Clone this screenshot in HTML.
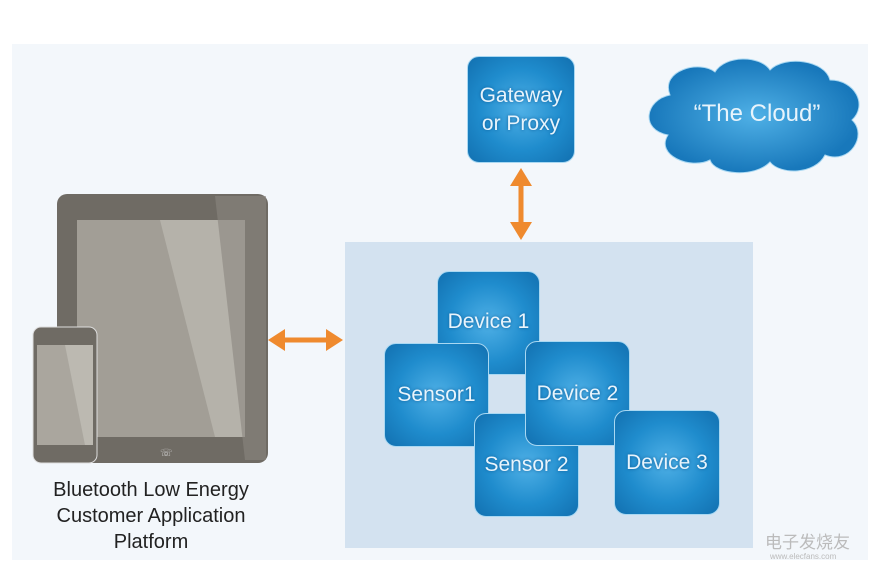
<!DOCTYPE html><html><head><style>
body{margin:0;width:877px;height:574px;background:#fff;position:relative;overflow:hidden;font-family:"Liberation Sans",sans-serif}
.a{position:absolute}
.b{position:absolute;border-radius:12px;background:radial-gradient(ellipse at 50% 50%,#4fb0e6 0%,#1f8ccd 55%,#1270b0 100%);border:1.5px solid #a9d8f2;color:#e8f4fc;font-size:21px;display:flex;align-items:center;justify-content:center;text-align:center;box-sizing:border-box;text-shadow:0 0 3px #0d5d99}
</style></head><body>
<div class="a" style="left:12px;top:44px;width:856px;height:516px;background:#f3f7fb"></div>
<div class="a" style="left:345px;top:242px;width:408px;height:306px;background:#d3e2f0"></div>
<div class="a" style="left:57px;top:194px;width:211px;height:269px;background:#6f6b64;border-radius:10px"></div>
<svg class="a" style="left:0;top:0" width="877" height="574">
<polygon points="77,220 245,220 245,437 77,437" fill="#a29e96"/>
<polygon points="160,220 245,220 245,437 215,437" fill="#b5b2aa"/>
<polygon points="215,196 266,196 266,460 245,460" fill="#8a867e" opacity=".6"/>
<rect x="33" y="327" width="64" height="136" rx="8" fill="#6f6b64" stroke="#ddd" stroke-width="1"/>
<rect x="37" y="345" width="56" height="100" fill="#aaa69e"/>
<polygon points="65,345 93,345 93,445 85,445" fill="#bcb9b1"/>
<text x="160" y="456" font-size="10" fill="#ccc">☏</text>
<g fill="#ef8a2e" stroke="#ef8a2e">
<line x1="280" y1="340" x2="331" y2="340" stroke-width="5"/>
<polygon points="268,340 285,329 285,351" stroke="none"/>
<polygon points="343,340 326,329 326,351" stroke="none"/>
<line x1="521" y1="180" x2="521" y2="228" stroke-width="5"/>
<polygon points="521,168 510,186 532,186" stroke="none"/>
<polygon points="521,240 510,222 532,222" stroke="none"/>
</g>
<defs><radialGradient id="cg"><stop offset="0" stop-color="#4fb0e6"/><stop offset="1" stop-color="#1878bb"/></radialGradient></defs>
<g fill="url(#cg)" stroke="#a9d8f2" stroke-width="1">
<path d="M670,95 C660,70 700,60 715,72 C725,55 760,55 770,70 C785,55 825,60 830,80 C855,80 868,105 852,120 C868,135 850,165 825,155 C815,175 780,175 770,162 C755,178 715,175 710,160 C690,170 655,155 668,135 C640,130 645,100 670,95 Z"/>
</g>
<text x="757" y="121" font-size="24" fill="#e8f4fc" text-anchor="middle" font-family="Liberation Sans">“The Cloud”</text>
</svg>
<div class="b" style="left:467px;top:56px;width:108px;height:107px;line-height:28px">Gateway<br>or Proxy</div>
<div class="b" style="left:437px;top:271px;width:103px;height:104px;align-items:flex-start;padding-top:38px">Device 1</div>
<div class="b" style="left:384px;top:343px;width:105px;height:104px">Sensor1</div>
<div class="b" style="left:474px;top:413px;width:105px;height:104px">Sensor 2</div>
<div class="b" style="left:525px;top:341px;width:105px;height:105px">Device 2</div>
<div class="b" style="left:614px;top:410px;width:106px;height:105px">Device 3</div>
<div class="a" style="left:20px;top:477px;width:262px;text-align:center;font-size:20px;line-height:26px;color:#222">Bluetooth Low Energy<br>Customer Application<br>Platform</div>
<div class="a" style="left:765px;top:528px;font-size:17px;color:#bbb;font-family:'Noto Sans CJK SC',sans-serif">电子发烧友</div>
<div class="a" style="left:770px;top:552px;font-size:8px;color:#bbb">www.elecfans.com</div>
</body></html>
